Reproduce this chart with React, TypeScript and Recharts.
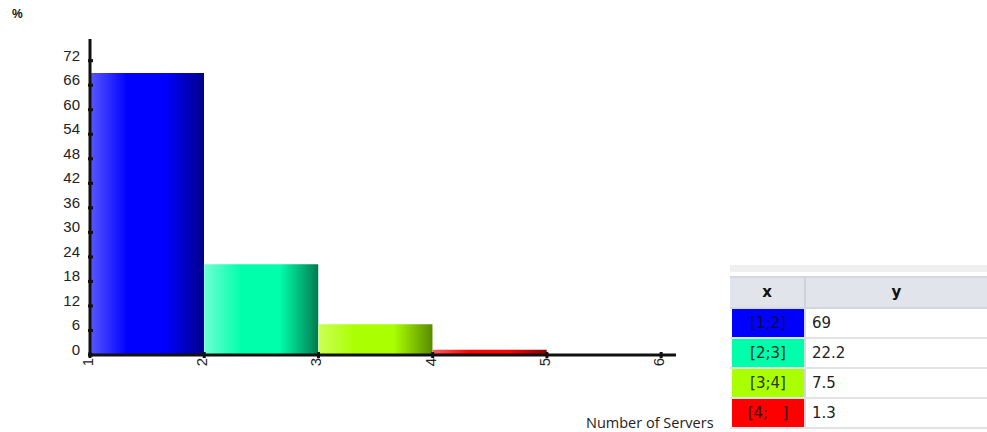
import { Bar, BarChart, Cell, XAxis, YAxis } from 'recharts'

// histogram classes (lower bound, upper bound) and share in %
const classLabels = ['[1;2]', '[2;3]', '[3;4]', '[4;   ]']
const classStarts = [1, 2, 3, 4]
const classEnds = [2, 3, 4, 5]
const shares = [69, 22.2, 7.5, 1.3]

const yTicks = [0, 6, 12, 18, 24, 30, 36, 42, 48, 54, 60, 66, 72]
const xTicks = [1, 2, 3, 4, 5, 6]

// light edge, flat middle, dark edge — one gradient per class
const BAR_GRADIENTS = [
  { light: '#5858ff', base: '#0000ff', dark: '#00008a', text: '#08083a' },
  { light: '#6effd2', base: '#00ffaa', dark: '#007a50', text: '#0a3020' },
  { light: '#ccff55', base: '#aaff00', dark: '#588a00', text: '#2a3a00' },
  { light: '#ff5a5a', base: '#ff0000', dark: '#8a0000', text: '#3a0000' },
]

const AXIS_INK = '#111111'
const TICK_FONT = '"Liberation Sans", Arial, sans-serif'
const TABLE_FONT = '"DejaVu Sans", Tahoma, sans-serif'

const chartData = classLabels.map((label, i) => ({
  label,
  mid: (classStarts[i] + classEnds[i]) / 2,
  share: shares[i],
}))

function YTick({ x, y, payload }: any) {
  return (
    <g>
      <line x1={x - 2} x2={x + 3} y1={y} y2={y} stroke={AXIS_INK} strokeWidth={3} />
      <text
        x={x - 10}
        y={y}
        dy={0}
        textAnchor="end"
        fontSize={15}
        fontFamily={TICK_FONT}
        fill="#222"
      >
        {payload.value}
      </text>
    </g>
  )
}

function XTick({ x, y, payload }: any) {
  return (
    <g transform={`translate(${x},${y})`}>
      <line x1={0} x2={0} y1={-3} y2={3} stroke={AXIS_INK} strokeWidth={3} />
      <text
        transform="rotate(-90)"
        x={-3}
        y={3}
        textAnchor="end"
        fontSize={15}
        fontFamily={TICK_FONT}
        fill="#222"
      >
        {payload.value}
      </text>
    </g>
  )
}

function ClassTable() {
  return (
    <div
      style={{
        position: 'absolute',
        left: 730,
        top: 265,
        width: 257,
        borderTop: '7px solid #efefef',
        fontFamily: TABLE_FONT,
        fontSize: 15,
      }}
    >
      <div style={{ display: 'flex', height: 29, marginTop: 4, background: '#e1e4ea', borderTop: '2px solid #d4d7dc', borderBottom: '2px solid #d4d7dc' }}>
        <div style={{ width: 74, textAlign: 'center', lineHeight: '28px', fontWeight: 'bold', borderRight: '2px solid #cfd2d8', color: '#111' }}>x</div>
        <div style={{ flex: 1, textAlign: 'center', lineHeight: '28px', fontWeight: 'bold', color: '#111' }}>y</div>
      </div>
      {classLabels.map((label, i) => (
        <div key={label} style={{ display: 'flex', height: 28, borderBottom: '2px solid #e2e2e2' }}>
          <div
            style={{
              width: 72,
              marginLeft: 2,
              background: BAR_GRADIENTS[i].base,
              color: BAR_GRADIENTS[i].text,
              textAlign: 'center',
              lineHeight: '28px',
              whiteSpace: 'pre',
              borderRight: '2px solid #d4d7dc',
            }}
          >
            {label}
          </div>
          <div style={{ flex: 1, paddingLeft: 6, lineHeight: '28px', color: '#222' }}>{shares[i]}</div>
        </div>
      ))}
    </div>
  )
}

export default function App() {
  return (
    <div style={{ position: 'absolute', left: 0, top: 0, width: 987, height: 432, background: '#fff' }}>
      <div
        style={{
          position: 'absolute',
          left: 12,
          top: 7,
          fontFamily: TICK_FONT,
          fontWeight: 'bold',
          fontSize: 12,
          color: '#111',
        }}
      >
        %
      </div>
      <BarChart
        width={700}
        height={432}
        data={chartData}
        margin={{ top: 39, right: 24, bottom: 37, left: 30 }}
        barCategoryGap={0}
        barGap={0}
      >
        <defs>
          {BAR_GRADIENTS.map((g, i) => (
            <linearGradient key={i} id={`bar-grad-${i}`} x1="0" y1="0" x2="1" y2="0">
              <stop offset="0%" stopColor={g.light} />
              <stop offset="33%" stopColor={g.base} />
              <stop offset="66%" stopColor={g.base} />
              <stop offset="100%" stopColor={g.dark} />
            </linearGradient>
          ))}
        </defs>
        <XAxis
          dataKey="mid"
          type="number"
          domain={[1, 6.13]}
          ticks={xTicks}
          allowDataOverflow
          interval={0}
          height={40}
          tickSize={0}
          tickMargin={0}
          tickLine={false}
          axisLine={{ stroke: AXIS_INK, strokeWidth: 3 }}
          tick={<XTick />}
        />
        <YAxis
          type="number"
          domain={[0, 77.3]}
          ticks={yTicks}
          allowDataOverflow
          interval={0}
          width={60}
          tickSize={0}
          tickMargin={0}
          tickLine={false}
          axisLine={{ stroke: AXIS_INK, strokeWidth: 3 }}
          tick={<YTick />}
        />
        <Bar dataKey="share" isAnimationActive={false}>
          {chartData.map((d, i) => (
            <Cell key={d.label} fill={`url(#bar-grad-${i})`} />
          ))}
        </Bar>
      </BarChart>
      <div
        style={{
          position: 'absolute',
          left: 586,
          top: 413,
          fontFamily: '"Open Sans", sans-serif',
          fontSize: 14.5,
          color: '#222',
          whiteSpace: 'nowrap',
        }}
      >
        Number of Servers
      </div>
      <ClassTable />
    </div>
  )
}
